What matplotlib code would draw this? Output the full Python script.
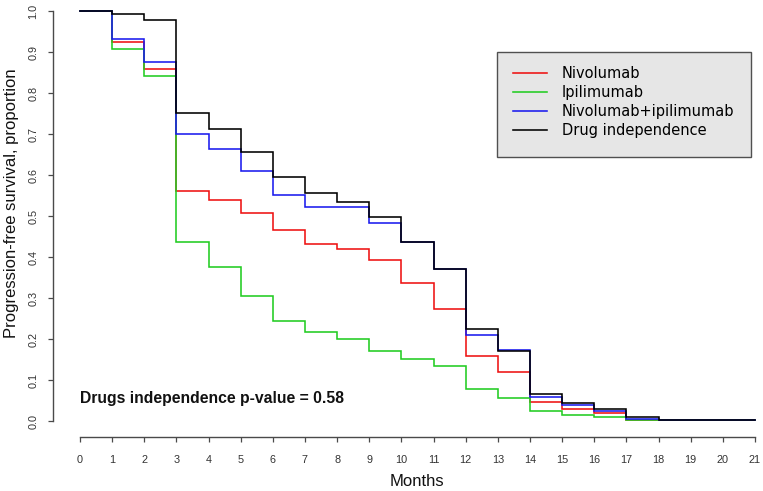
import matplotlib
matplotlib.use("Agg")
import matplotlib.pyplot as plt
import numpy as np
from matplotlib.patches import Rectangle

plt.rcParams['font.family'] = ['Liberation Sans', 'DejaVu Sans']

# ---- data: survival proportion on each interval [k, k+1), k = 0..20 ----
months = list(range(22))
nivolumab = [1.0, 0.925, 0.859, 0.562, 0.539, 0.508, 0.466, 0.431, 0.419, 0.393,
             0.337, 0.273, 0.159, 0.120, 0.046, 0.030, 0.019, 0.002, 0.002, 0.002, 0.002]
ipilimumab = [1.0, 0.907, 0.841, 0.436, 0.375, 0.305, 0.245, 0.216, 0.200, 0.171,
              0.151, 0.135, 0.078, 0.055, 0.024, 0.014, 0.010, 0.002, 0.002, 0.002, 0.002]
combo = [1.0, 0.933, 0.876, 0.700, 0.664, 0.610, 0.551, 0.523, 0.521, 0.484,
         0.437, 0.371, 0.210, 0.173, 0.058, 0.039, 0.024, 0.005, 0.002, 0.002, 0.002]
independence = [1.0, 0.994, 0.977, 0.752, 0.712, 0.655, 0.596, 0.555, 0.534, 0.497,
                0.437, 0.371, 0.224, 0.171, 0.067, 0.045, 0.029, 0.010, 0.002, 0.002, 0.002]

series_names = ["Nivolumab", "Ipilimumab", "Nivolumab+ipilimumab", "Drug independence"]
series_values = [nivolumab, ipilimumab, combo, independence]
series_colors = ["#ee1111", "#22cc22", "#1a1aee", "#000000"]
y_ticks = [0.0, 0.1, 0.2, 0.3, 0.4, 0.5, 0.6, 0.7, 0.8, 0.9, 1.0]
x_ticks = list(range(22))

W, H = 763, 491
fig = plt.figure(figsize=(W / 100, H / 100), dpi=100)
ax = fig.add_axes([53 / W, (H - 437.4) / H, (W - 53) / W, 437.4 / H])
ax.set_xlim(-0.84, 21.25)
ax.set_ylim(-0.04, 1.027)

handles = []
for name, vals, col in zip(series_names, series_values, series_colors):
    (ln,) = ax.step(months, vals + [vals[-1]], where="post", color=col, lw=1.15,
                    label=name, solid_joinstyle="miter")
    handles.append(ln)

for s in ["top", "right"]:
    ax.spines[s].set_visible(False)
axis_col = "#4a4a4a"
ax.spines["left"].set_bounds(0, 1)
ax.spines["bottom"].set_bounds(0, 21)
for s in ["left", "bottom"]:
    ax.spines[s].set_color(axis_col)
    ax.spines[s].set_linewidth(1.0)

ax.set_xticks(x_ticks)
ax.set_xticklabels([str(t) for t in x_ticks])
ax.set_yticks(y_ticks)
ax.set_yticklabels(["%.1f" % t for t in y_ticks])
ax.tick_params(axis="both", direction="out", length=3.6, width=0.9, color=axis_col,
               labelsize=7.8, labelcolor="#333333")
ax.tick_params(axis="x", pad=9)
ax.tick_params(axis="y", pad=7, labelrotation=90)
for lab in ax.get_yticklabels():
    lab.set_va("center")

ax.text(0.0, 0.054, "Drugs independence p-value = 0.58", fontsize=11.3,
        fontweight="bold", ha="left", va="center", color="#111111")

fig.text(12 / W, 1 - 203 / H, "Progression-free survival, proportion", rotation=90,
         ha="center", va="center", fontsize=12, color="#111111")
fig.text(417 / W, 1 - 481.7 / H, "Months", ha="center", va="center", fontsize=12,
         color="#111111")

# legend frame
rect = Rectangle((497 / W, 1 - 157 / H), 254 / W, 105 / H, transform=fig.transFigure,
                 facecolor="#e6e6e6", edgecolor="#505050", lw=1.0, zorder=3)
fig.add_artist(rect)
leg = fig.legend(handles, series_names, loc="upper left",
                 bbox_to_anchor=(513 / W, 1 - 66.5 / H), bbox_transform=fig.transFigure,
                 frameon=False, borderpad=0, borderaxespad=0, handlelength=2.33,
                 handletextpad=1.03, labelspacing=0.27,
                 prop={"family": "DejaVu Sans", "size": 10.5})
leg.set_zorder(5)

fig.savefig("out.png", dpi=100)
